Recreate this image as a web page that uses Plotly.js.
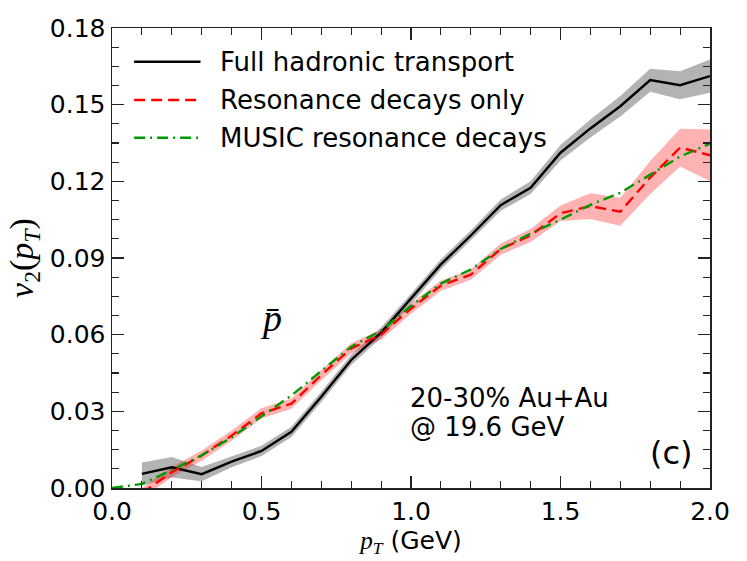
<!DOCTYPE html>
<html>
<head>
<meta charset="utf-8">
<script src="https://cdn.plot.ly/plotly-3.0.1.min.js"></script>
<style>html,body{margin:0;padding:0;background:#fff;}#plot{width:747px;height:561px;}</style>
</head>
<body>
<div id="plot"></div>
<script>
// ---- data ----
var pT_full = [0.1,0.2,0.3,0.4,0.5,0.6,0.7,0.8,0.9,1.0,1.1,1.2,1.3,1.4,1.5,1.6,1.7,1.8,1.9,2.0];
var v2_full = [0.0055,0.0081,0.0054,0.0103,0.0145,0.0220,0.0357,0.0501,0.0608,0.0740,0.0875,0.0988,0.1107,0.1175,0.1312,0.1407,0.1494,0.1596,0.1576,0.1612];
var err_full = [0.0045,0.0040,0.0028,0.0022,0.0020,0.0020,0.0020,0.0020,0.0020,0.0020,0.0020,0.0020,0.0022,0.0025,0.0030,0.0035,0.0040,0.0045,0.0055,0.0065];

var pT_res = [0.1,0.2,0.3,0.4,0.5,0.6,0.7,0.8,0.9,1.0,1.1,1.2,1.3,1.4,1.5,1.6,1.7,1.8,1.9,2.0];
var v2_res = [-0.002,0.0062,0.0127,0.0205,0.0292,0.0330,0.0442,0.0546,0.0600,0.0702,0.0792,0.0835,0.0935,0.0988,0.1075,0.1103,0.1081,0.1215,0.1332,0.1302];
var err_res = [0.0020,0.0020,0.0020,0.0020,0.0020,0.0020,0.0020,0.0020,0.0020,0.0020,0.0020,0.0020,0.0022,0.0025,0.0030,0.0050,0.0055,0.0065,0.0074,0.0101];

var pT_music = [0.0,0.1,0.2,0.3,0.4,0.5,0.6,0.7,0.8,0.9,1.0,1.1,1.2,1.3,1.4,1.5,1.6,1.7,1.8,1.9,2.0];
var v2_music = [0.0,0.0016,0.0070,0.0128,0.0198,0.0280,0.0362,0.0458,0.0553,0.0616,0.0712,0.0800,0.0855,0.0935,0.0996,0.1050,0.1108,0.1155,0.1225,0.1297,0.1347];

var legendLabels = ["Full hadronic transport","Resonance decays only","MUSIC resonance decays"];
var xTicks = [0.0,0.5,1.0,1.5,2.0];
var yTicks = [0.00,0.03,0.06,0.09,0.12,0.15,0.18];

// ---- helpers ----
function band(x, y, e) {
  var bx = x.slice(), by = [];
  for (var i = 0; i < x.length; i++) by.push(y[i] + e[i]);
  for (var j = x.length - 1; j >= 0; j--) { bx.push(x[j]); by.push(y[j] - e[j]); }
  return {x: bx, y: by};
}
var bFull = band(pT_full, v2_full, err_full);
var bRes = band(pT_res, v2_res, err_res);

var colBlack = '#000000', colRed = '#ff0000', colGreen = '#009900';
var dashRed = '11px,6px', dashGreen = '11px,5px,2px,5px';

var traces = [
  {x: bFull.x, y: bFull.y, mode: 'lines', fill: 'toself', fillcolor: 'rgba(128,128,128,0.6)', line: {width: 0}, hoverinfo: 'skip', showlegend: false},
  {x: bRes.x, y: bRes.y, mode: 'lines', fill: 'toself', fillcolor: 'rgba(255,0,0,0.3)', line: {width: 0}, hoverinfo: 'skip', showlegend: false},
  {x: pT_full, y: v2_full, mode: 'lines', name: legendLabels[0], line: {color: colBlack, width: 2.4}, showlegend: false},
  {x: pT_res, y: v2_res, mode: 'lines', name: legendLabels[1], line: {color: colRed, width: 2.4, dash: dashRed}, showlegend: false},
  {x: pT_music, y: v2_music, mode: 'lines', name: legendLabels[2], line: {color: colGreen, width: 2.4, dash: dashGreen}, showlegend: false}
];

// manual legend (paper coordinates)
var legCols = [colBlack, colRed, colGreen];
var legDash = ['solid', dashRed, dashGreen];
var legY = [0.9267, 0.8435, 0.7615];
var shapes = [], annotations = [];
for (var k = 0; k < 3; k++) {
  shapes.push({type: 'line', xref: 'paper', yref: 'paper', x0: 0.037, x1: 0.148, y0: legY[k], y1: legY[k],
               line: {color: legCols[k], width: 2.4, dash: legDash[k]}});
  annotations.push({xref: 'paper', yref: 'paper', x: 0.177, y: legY[k], xanchor: 'left', yanchor: 'middle',
                    text: legendLabels[k], showarrow: false, font: {family: 'DejaVu Sans', size: 26, color: '#000'}});
}
annotations.push({xref: 'paper', yref: 'paper', x: 0.495, y: 0.1957, xanchor: 'left', yanchor: 'middle',
                  text: '20-30% Au+Au', showarrow: false, font: {family: 'DejaVu Sans', size: 26, color: '#000'}});
annotations.push({xref: 'paper', yref: 'paper', x: 0.495, y: 0.1326, xanchor: 'left', yanchor: 'middle',
                  text: '@ 19.6 GeV', showarrow: false, font: {family: 'DejaVu Sans', size: 26, color: '#000'}});
annotations.push({xref: 'paper', yref: 'paper', x: 0.936, y: 0.0761, xanchor: 'center', yanchor: 'middle',
                  text: '(c)', showarrow: false, font: {family: 'DejaVu Sans', size: 32, color: '#000'}});
annotations.push({xref: 'paper', yref: 'paper', x: 0.266, y: 0.37, xanchor: 'center', yanchor: 'middle',
                  text: '<i>p\u0304</i>', showarrow: false, font: {family: 'Liberation Serif', size: 38, color: '#000'}});

var axisCommon = {
  showline: true, linecolor: '#222', linewidth: 1.5, mirror: 'ticks',
  ticks: 'inside', ticklen: 12, tickwidth: 1.3, tickcolor: '#222',
  showgrid: false, zeroline: false,
  tickfont: {family: 'DejaVu Sans', size: 25, color: '#000'}
};

var layout = {
  width: 747, height: 561,
  margin: {l: 112, r: 37, t: 28, b: 73},
  paper_bgcolor: '#fff', plot_bgcolor: '#fff',
  showlegend: false,
  xaxis: Object.assign({}, axisCommon, {
    range: [0, 2], tickvals: xTicks, ticktext: xTicks.map(function(v){return v.toFixed(1);}),
    minor: {dtick: 0.1, ticks: 'inside', ticklen: 7, tickwidth: 1.1, tickcolor: '#222', showgrid: false},
    title: {text: '<span style="font-family:Liberation Serif"><i>p</i><sub><i>T</i></sub></span> (GeV)', font: {family: 'DejaVu Sans', size: 25, color: '#000'}, standoff: 4}
  }),
  yaxis: Object.assign({}, axisCommon, {
    range: [0, 0.18], tickvals: yTicks, ticktext: yTicks.map(function(v){return v.toFixed(2);}),
    minor: {dtick: 0.0075, tick0: 0, ticks: 'inside', ticklen: 7, tickwidth: 1.1, tickcolor: '#222', showgrid: false},
    title: {text: '<i>v</i><sub>2</sub>(<i>p</i><sub><i>T</i></sub>)', font: {family: 'Liberation Serif', size: 34, color: '#000'}, standoff: 6}
  }),
  shapes: shapes,
  annotations: annotations
};

Plotly.newPlot('plot', traces, layout, {staticPlot: true, displayModeBar: false});
</script>
</body>
</html>
